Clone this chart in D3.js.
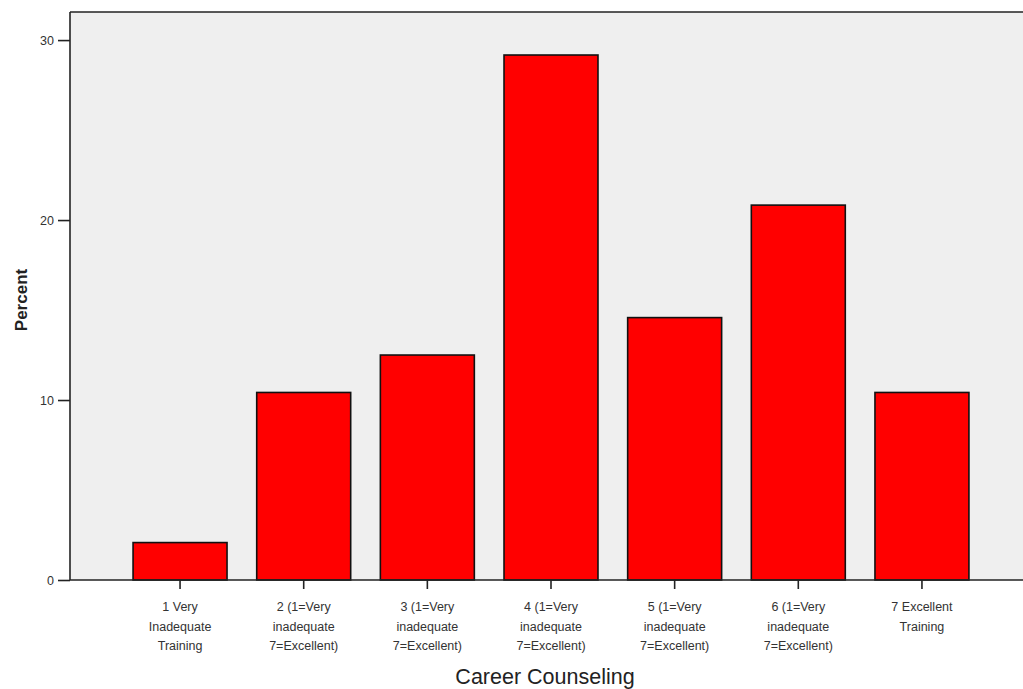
<!DOCTYPE html>
<html><head><meta charset="utf-8">
<script src="https://cdn.jsdelivr.net/npm/d3@7/dist/d3.min.js"></script>
<style>body{margin:0;background:#fff}svg{display:block}text{font-family:"Liberation Sans",Arial,sans-serif}</style>
</head><body>
<script>
const categories = [
  ["1 Very","Inadequate","Training"],
  ["2 (1=Very","inadequate","7=Excellent)"],
  ["3 (1=Very","inadequate","7=Excellent)"],
  ["4 (1=Very","inadequate","7=Excellent)"],
  ["5 (1=Very","inadequate","7=Excellent)"],
  ["6 (1=Very","inadequate","7=Excellent)"],
  ["7 Excellent","Training"]
];
const percents = [2.08, 10.42, 12.50, 29.17, 14.58, 20.83, 10.42];
const yTicks = [0, 10, 20, 30];
const xTitle = "Career Counseling";
const yTitle = "Percent";

const W = 1023, H = 689;
const mLeft = 70, mRight = 1032, mTop = 12, mBottom = 580;
const svg = d3.select("body").append("svg").attr("width", W).attr("height", H);

const keys = categories.map((c,i)=>String(i));
const x = d3.scaleBand().domain(keys).range([mLeft, mRight]).paddingInner(0.24).paddingOuter(0.51);
const y = d3.scaleLinear().domain([0, 31.56]).range([mBottom, mTop]);

svg.append("rect").attr("x", mLeft).attr("y", mTop).attr("width", W - mLeft + 5).attr("height", mBottom - mTop)
  .attr("fill", "#efefef");

svg.selectAll("rect.bar").data(percents).join("rect").attr("class","bar")
  .attr("x", (d,i)=>x(keys[i])).attr("width", x.bandwidth())
  .attr("y", d=>y(d)).attr("height", d=>mBottom - y(d))
  .attr("fill", "#ff0000").attr("stroke", "#111").attr("stroke-width", 1.6);

svg.append("line").attr("x1", mLeft).attr("x2", W+5).attr("y1", mTop).attr("y2", mTop).attr("stroke","#222").attr("stroke-width",1.6);
svg.append("line").attr("x1", mLeft).attr("x2", mLeft).attr("y1", mTop).attr("y2", mBottom).attr("stroke","#222").attr("stroke-width",1.6);

const ya = svg.append("g").attr("transform", `translate(${mLeft},0)`)
  .call(d3.axisLeft(y).tickValues(yTicks).tickSize(12).tickPadding(4).tickFormat(d3.format("d")));
ya.select(".domain").remove();
ya.selectAll(".tick line").attr("stroke","#222").attr("stroke-width",1.6);
ya.selectAll(".tick text").attr("font-size", 12.5).attr("fill","#333").attr("font-family","Liberation Sans, Arial, sans-serif");

const xa = svg.append("g").attr("transform", `translate(0,${mBottom})`)
  .call(d3.axisBottom(x).tickSize(9).tickFormat(""));
xa.select(".domain").attr("d", `M${mLeft},0H${W+5}`).attr("stroke","#222").attr("stroke-width",1.6);
xa.selectAll(".tick line").attr("stroke","#222").attr("stroke-width",1.6);
xa.selectAll(".tick").each(function(d,i){
  const t = d3.select(this).append("text").attr("fill","#333").attr("font-size",12.5)
    .attr("text-anchor","middle").attr("font-family","Liberation Sans, Arial, sans-serif");
  categories[i].forEach((line,j)=>{
    t.append("tspan").attr("x",0).attr("y", 31 + j*19.5).text(line);
  });
});

svg.append("text").attr("x", 545).attr("y", 684).attr("text-anchor","middle")
  .attr("font-size", 21.5).attr("fill","#222").text(xTitle);
svg.append("text").attr("transform", `translate(27,300) rotate(-90)`).attr("text-anchor","middle")
  .attr("font-size", 17).attr("font-weight","bold").attr("fill","#222").text(yTitle);
</script>
</body></html>
